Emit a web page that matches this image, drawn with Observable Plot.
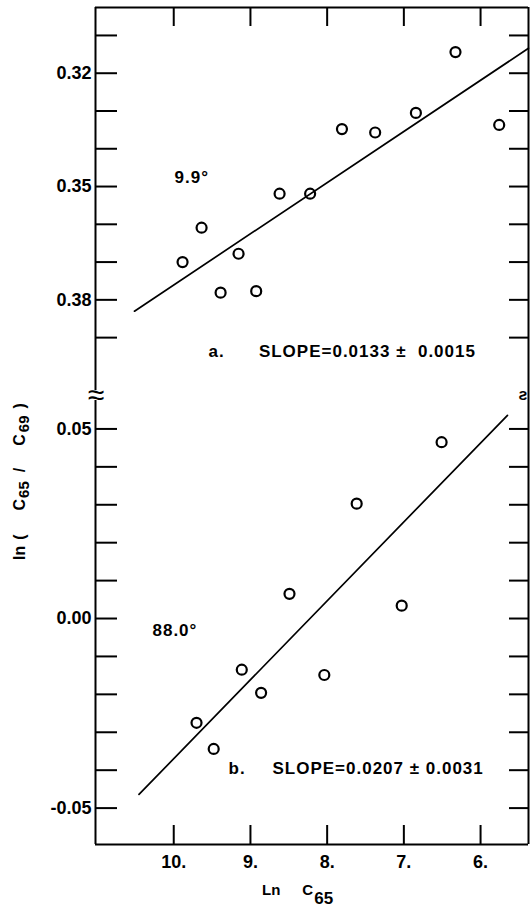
<!DOCTYPE html>
<html><head><meta charset="utf-8">
<script src="https://cdn.jsdelivr.net/npm/d3@7"></script>
<script src="https://cdn.jsdelivr.net/npm/@observablehq/plot@0.6"></script>
<style>
body{margin:0;background:#fff;}
#chart svg{display:block;overflow:visible;background:none;}
</style></head><body><div id="chart"></div>
<script>
// shared x axis (Ln C65, decreasing to the right)
const xTicks = [10, 9, 8, 7, 6];
const xTickLabels = ["10.", "9.", "8.", "7.", "6."];
const xDomain = [11.02, 5.375];

// panel a : 9.9°
const aX = [9.885, 9.637, 9.389, 9.155, 8.925, 8.620, 8.222, 7.807, 7.374, 6.843, 6.327, 5.757];
const aY = [0.3700, 0.3609, 0.3781, 0.3678, 0.3777, 0.3519, 0.3519, 0.3348, 0.3357, 0.3305, 0.3144, 0.3337];
const aFitX = [10.512, 5.375];
const aFitY = [0.3830, 0.3134];
const aDomain = [0.4040, 0.3026];
const aMinorTicks = [0.31, 0.32, 0.33, 0.34, 0.35, 0.36, 0.37, 0.38, 0.39];
const aLabelTicks = [0.32, 0.35, 0.38];
const aNotes = ["9.9°", "a.", "SLOPE=0.0133 ±  0.0015"];
const aNoteX = [9.99, 9.547, 8.89];
const aNoteY = [0.3476, 0.3937, 0.3937];

// panel b : 88.0°
const bX = [9.703, 9.479, 9.113, 8.861, 8.491, 8.037, 7.615, 7.028, 6.508];
const bY = [-0.0275, -0.0344, -0.0135, -0.0196, 0.0065, -0.0149, 0.0303, 0.0034, 0.0465];
const bFitX = [10.453, 5.649];
const bFitY = [-0.0464, 0.0536];
const bDomain = [-0.0596, 0.0575];
const bMinorTicks = [-0.05, -0.04, -0.03, -0.02, -0.01, 0, 0.01, 0.02, 0.03, 0.04, 0.05];
const bLabelTicks = [0.05, 0, -0.05];
const bNotes = ["88.0°", "b.", "SLOPE=0.0207 ± 0.0031"];
const bNoteX = [10.277, 9.286, 8.713];
const bNoteY = [-0.0032, -0.0396, -0.0396];

const FONT = "'Liberation Sans', Arial, sans-serif";
const fmt = d => d.toFixed(2);

function common(labelTicks, minorTicks) {
  return [
    Plot.axisY({anchor: "left", ticks: labelTicks, tickSize: 0, tickPadding: 4, tickFormat: fmt, label: null, fontSize: 18}),
    Plot.axisY({anchor: "left", ticks: minorTicks, tickSize: 22, dx: 22, fill: "none", strokeWidth: 2, label: null}),
    Plot.axisY({anchor: "right", ticks: minorTicks, tickSize: 20, dx: -20, fill: "none", strokeWidth: 2, label: null})
  ];
}

const pts = (xs, ys) => xs.map((x, i) => ({x, y: ys[i]}));
const notes = (t, xs, ys) => t.map((text, i) => ({text, x: xs[i], y: ys[i]}));

const topPlot = Plot.plot({
  width: 531, height: 400,
  marginLeft: 95, marginRight: 3, marginTop: 7, marginBottom: 10,
  style: {fontFamily: FONT, fontWeight: "bold", fontSize: "17px", background: "none", overflow: "visible"},
  x: {domain: xDomain},
  y: {domain: aDomain},
  marks: [
    ...common(aLabelTicks, aMinorTicks),
    Plot.axisX({anchor: "top", ticks: xTicks, tickSize: 18, dy: 18, fill: "none", strokeWidth: 2, label: null}),
    Plot.ruleX([xDomain[0]], {strokeWidth: 2}),
    Plot.ruleX([xDomain[1]], {strokeWidth: 2, insetBottom: -10}),
    Plot.ruleY([aDomain[1]], {strokeWidth: 2}),
    Plot.line(pts(aFitX, aFitY), {x: "x", y: "y", strokeWidth: 1.7}),
    Plot.dot(pts(aX, aY), {x: "x", y: "y", r: 5, stroke: "black", strokeWidth: 2.2}),
    Plot.text(notes(aNotes, aNoteX, aNoteY), {x: "x", y: "y", text: "text", textAnchor: "start", lineAnchor: "middle", fontSize: 17}),
    Plot.text(["≈"], {frameAnchor: "bottom-left", textAnchor: "middle", lineAnchor: "middle", fontSize: 30, fontWeight: "normal", dx: 1, dy: 5}),
    Plot.text(["ƨ"], {frameAnchor: "bottom-right", textAnchor: "middle", lineAnchor: "middle", fontSize: 16, dx: -5, dy: 4})
  ]
});

const bottomPlot = Plot.plot({
  width: 531, height: 509,
  marginLeft: 95, marginRight: 3, marginTop: 0, marginBottom: 65,
  style: {fontFamily: FONT, fontWeight: "bold", fontSize: "17px", background: "none", overflow: "visible"},
  x: {domain: xDomain},
  y: {domain: bDomain},
  marks: [
    ...common(bLabelTicks, bMinorTicks),
    Plot.axisX({anchor: "bottom", ticks: xTicks, tickSize: 19, dy: -19, fill: "none", strokeWidth: 2, label: null}),
    Plot.axisX({anchor: "bottom", ticks: xTicks, tickSize: 0, tickPadding: 11, tickFormat: d => xTickLabels[xTicks.indexOf(d)], label: null, fontSize: 18}),
    Plot.ruleX([xDomain[0]], {strokeWidth: 2}),
    Plot.ruleX([xDomain[1]], {strokeWidth: 2}),
    Plot.ruleY([bDomain[0]], {strokeWidth: 2}),
    Plot.line(pts(bFitX, bFitY), {x: "x", y: "y", strokeWidth: 1.7}),
    Plot.dot(pts(bX, bY), {x: "x", y: "y", r: 5, stroke: "black", strokeWidth: 2.2}),
    Plot.text(notes(bNotes, bNoteX, bNoteY), {x: "x", y: "y", text: "text", textAnchor: "start", lineAnchor: "middle", fontSize: 17})
  ]
});

for (const svg of [topPlot, bottomPlot]) {
  d3.select(svg).selectAll('g[aria-label="text"] text').attr("letter-spacing", "1");
}

// y-axis title: ln ( C65 / C69 )
const yt = d3.select(bottomPlot).append("text")
  .attr("transform", "translate(25,160) rotate(-90)")
  .attr("text-anchor", "start")
  .attr("font-size", 16).attr("font-weight", "bold").attr("font-family", FONT)
  .attr("fill", "black");
yt.append("tspan").text("ln");
yt.append("tspan").attr("dx", 6).text("(");
yt.append("tspan").attr("dx", 24).text("C");
yt.append("tspan").attr("dx", 1).attr("dy", 4).attr("font-size", 15).text("65");
yt.append("tspan").attr("dx", 9).attr("dy", -4).text("/");
yt.append("tspan").attr("dx", 22).text("C");
yt.append("tspan").attr("dx", 2).attr("dy", 4).attr("font-size", 15).text("69");
yt.append("tspan").attr("dx", 7).attr("dy", -4).text(")");

// x-axis title: Ln C65
const xt = d3.select(bottomPlot).append("text")
  .attr("transform", "translate(262,495)")
  .attr("text-anchor", "start")
  .attr("font-size", 15).attr("font-weight", "bold").attr("font-family", FONT)
  .attr("fill", "black");
xt.append("tspan").text("Ln");
xt.append("tspan").attr("dx", 22).text("C");
xt.append("tspan").attr("dx", 1).attr("dy", 9).attr("font-size", 17).text("65");

const chart = document.getElementById("chart");
chart.append(topPlot, bottomPlot);
</script>
</body></html>
